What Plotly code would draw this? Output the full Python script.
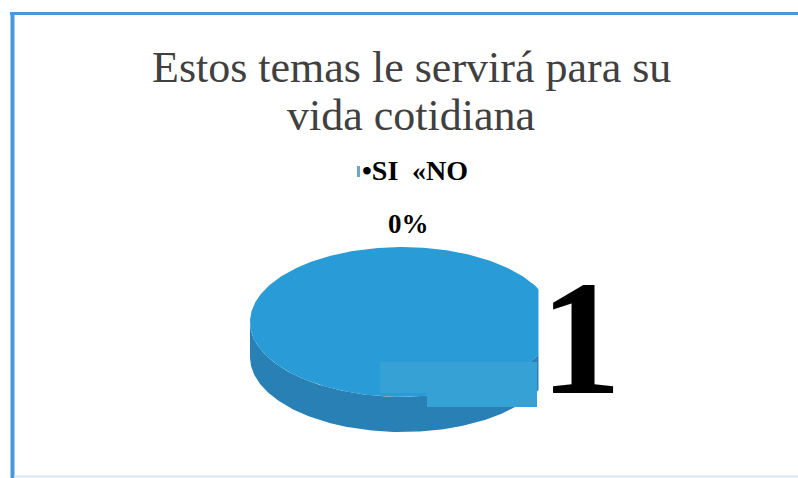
import numpy as np
import plotly.graph_objects as go

# Survey answers and their shares
categories = ["SI", "NO"]
values = [1, 0]
value_labels = ["1", "0%"]
title_lines = ["Estos temas le servirá para su", "vida cotidiana"]

W, H = 798, 478

TOP_COLOR = "rgb(41,155,214)"
SIDE_COLOR = "rgb(40,128,180)"
PATCH_COLOR = "rgb(54,161,213)"
FRAME_COLOR = "rgb(75,151,217)"
SERIF = "Liberation Serif, Times New Roman, serif"

DEPTH = 0.47  # thickness of the disc, in radius units


def px(x):
    return x / W


def py(y):
    return 1 - y / H


fig = go.Figure()

# Slice angles from the values (clockwise, starting at 12 o'clock)
total = float(sum(values))
start = np.pi / 2
slices = []
for cat, v in zip(categories, values):
    sweep = 2 * np.pi * v / total
    slices.append((cat, start, start - sweep))
    start -= sweep

side_traces, top_traces = [], []
for cat, a0, a1 in slices:
    if abs(a1 - a0) < 1e-9:
        continue
    t = np.linspace(a0, a1, 361)
    # top face of the slice
    full = abs(a1 - a0) >= 2 * np.pi - 1e-9
    if full:
        xs, ys = np.cos(t), np.sin(t)
    else:
        xs = np.concatenate([[0], np.cos(t), [0]])
        ys = np.concatenate([[0], np.sin(t), [0]])
    top_traces.append(go.Scatter(x=xs, y=ys, fill="toself", mode="lines",
                                 line=dict(width=0), fillcolor=TOP_COLOR,
                                 name=cat, hoverinfo="name", showlegend=False))
    # visible front wall (lower half of the rim)
    lo, hi = sorted((a0, a1))
    for k in range(-2, 3):
        f0, f1 = np.pi + 2 * np.pi * k, 2 * np.pi + 2 * np.pi * k
        s0, s1 = max(lo, f0), min(hi, f1)
        if s1 > s0:
            tt = np.linspace(s0, s1, 200)
            xs = np.concatenate([np.cos(tt), np.cos(tt[::-1])])
            ys = np.concatenate([np.sin(tt), np.sin(tt[::-1]) - DEPTH])
            side_traces.append(go.Scatter(x=xs, y=ys, fill="toself", mode="lines",
                                          line=dict(width=0), fillcolor=SIDE_COLOR,
                                          hoverinfo="skip", showlegend=False))

for tr in side_traces + top_traces:
    fig.add_trace(tr)

annotations = []
# Title, two lines
for line, yc in zip(title_lines, (67, 116)):
    annotations.append(dict(text=line, x=px(411), y=py(yc), xref="paper", yref="paper",
                            showarrow=False, xanchor="center", yanchor="middle",
                            font=dict(family=SERIF, size=44, color="#404040")))
# Legend line
annotations.append(dict(text="<b>•" + categories[0] + "</b>", x=px(380), y=py(171),
                        xref="paper", yref="paper", showarrow=False,
                        xanchor="center", yanchor="middle",
                        font=dict(family=SERIF, size=28, color="black")))
annotations.append(dict(text="<b>«" + categories[1] + "</b>", x=px(440), y=py(171),
                        xref="paper", yref="paper", showarrow=False,
                        xanchor="center", yanchor="middle",
                        font=dict(family=SERIF, size=28, color="black")))
# Value labels
annotations.append(dict(text="<b>" + value_labels[1] + "</b>", x=px(408), y=py(224),
                        xref="paper", yref="paper", showarrow=False,
                        xanchor="center", yanchor="middle",
                        font=dict(family=SERIF, size=27, color="black")))
annotations.append(dict(text="<b>" + value_labels[0] + "</b>", x=px(581), y=py(338),
                        xref="paper", yref="paper", showarrow=False,
                        xanchor="center", yanchor="middle", bgcolor="white",
                        font=dict(family=SERIF, size=163, color="black")))

shapes = [
    # legend key swatch
    dict(type="rect", xref="paper", yref="paper", x0=px(357), x1=px(360),
         y0=py(177), y1=py(166), line=dict(width=0), fillcolor="rgb(110,165,200)"),
    # lighter patch on the front of the disc
    dict(type="rect", xref="paper", yref="paper", x0=px(380), x1=px(537),
         y0=py(393), y1=py(362), line=dict(width=0), fillcolor=PATCH_COLOR, layer="above"),
    dict(type="rect", xref="paper", yref="paper", x0=px(427), x1=px(537),
         y0=py(407), y1=py(392), line=dict(width=0), fillcolor=PATCH_COLOR, layer="above"),
    # frame
    dict(type="line", xref="paper", yref="paper", x0=px(12.5), x1=px(12.5),
         y0=py(12), y1=py(478), line=dict(color=FRAME_COLOR, width=4)),
    dict(type="line", xref="paper", yref="paper", x0=px(10), x1=px(798),
         y0=py(13.5), y1=py(13.5), line=dict(color=FRAME_COLOR, width=3)),
    dict(type="line", xref="paper", yref="paper", x0=px(14), x1=px(798),
         y0=py(476.5), y1=py(476.5), line=dict(color="rgb(214,232,245)", width=2)),
]

fig.update_layout(
    width=W, height=H,
    margin=dict(l=0, r=0, t=0, b=0),
    paper_bgcolor="white", plot_bgcolor="rgba(0,0,0,0)",
    showlegend=False,
    xaxis=dict(range=[-1, 1], domain=[px(250), px(554)], visible=False, fixedrange=True),
    yaxis=dict(range=[-1 - DEPTH, 1], domain=[py(432), py(247)], visible=False, fixedrange=True),
    annotations=annotations,
    shapes=shapes,
)

fig.write_html("out.html", config={"displayModeBar": False})
